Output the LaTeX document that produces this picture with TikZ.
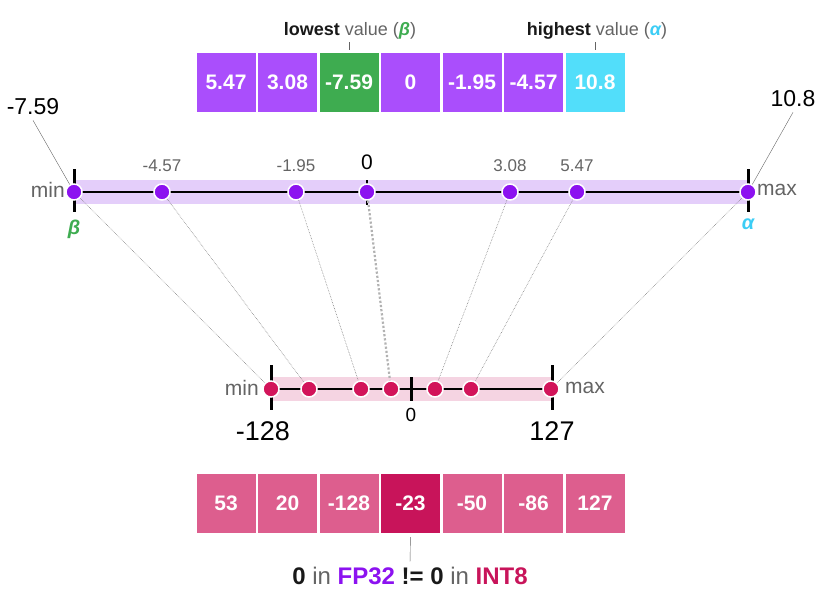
\documentclass[tikz,border=0pt]{standalone}
\usepackage{fontspec}
\setmainfont{Liberation Sans}
\definecolor{cellpurple}{RGB}{170,78,252}
\definecolor{cellgreen}{RGB}{62,172,80}
\definecolor{cellcyan}{RGB}{82,222,250}
\definecolor{alphacyan}{RGB}{60,205,245}
\definecolor{dotpurple}{RGB}{140,18,240}
\definecolor{bandpurple}{RGB}{228,206,250}
\definecolor{dotred}{RGB}{210,20,90}
\definecolor{bandpink}{RGB}{245,212,226}
\definecolor{cellpink}{RGB}{221,94,142}
\definecolor{cellred}{RGB}{200,20,90}
\definecolor{txtgray}{RGB}{100,100,100}
\definecolor{txtdark}{RGB}{25,25,25}

\begin{document}
\begin{tikzpicture}[x=1pt,y=-1pt,
    cell/.style={minimum size=59pt,inner sep=0pt,text=white,font=\bfseries\fontsize{21}{21}\selectfont},
    fpdot/.style={circle,fill=dotpurple,draw=white,line width=1.5pt,minimum size=16pt,inner sep=0pt},
    intdot/.style={fpdot,fill=dotred},
    lbl/.style={inner sep=0pt,text=txtgray,font=\fontsize{17}{17}\selectfont},
    bound/.style={inner sep=0pt,text=txtgray,font=\fontsize{21}{21}\selectfont},
    map/.style={gray,densely dotted,line width=0.6pt}]
    \useasboundingbox(0,0)rectangle(816,591);

    % FP32 values
    \node[cell,fill=cellpurple](t1)at(226,82.5){5.47};
    \node[cell,fill=cellpurple](t2)at(287.5,82.5){3.08};
    \node[cell,fill=cellgreen](t3)at(349,82.5){-7.59};
    \node[cell,fill=cellpurple](t4)at(410.5,82.5){0};
    \node[cell,fill=cellpurple](t5)at(472,82.5){-1.95};
    \node[cell,fill=cellpurple](t6)at(533.5,82.5){-4.57};
    \node[cell,fill=cellcyan](t7)at(595,82.5){10.8};
    \node[text=txtdark,font=\fontsize{18}{18}\selectfont](lowest)at(350,31){\textbf{lowest} \textcolor{txtgray}{value (}\textcolor{cellgreen}{\bfseries\itshape β}\textcolor{txtgray}{)}};
    \node[text=txtdark,font=\fontsize{18}{18}\selectfont](highest)at(597,31){\textbf{highest} \textcolor{txtgray}{value (}\textcolor{alphacyan}{\bfseries\itshape α}\textcolor{txtgray}{)}};
    \draw[txtgray]([yshift=3pt]t3.north)--([yshift=11pt]t3.north);
    \draw[txtgray]([yshift=3pt]t7.north)--([yshift=11pt]t7.north);

    % FP32 range
    \fill[bandpurple](74,180)rectangle(748,204);
    \draw[line width=2.5pt](74,192)--(748,192);
    \draw[line width=3pt](74,169)--(74,212);
    \draw[line width=3pt](748,169)--(748,212);
    \draw[line width=2pt](367,180)--(367,205);
    \node[fpdot](p1)at(74,192){};
    \node[fpdot](p2)at(162,192){};
    \node[fpdot](p3)at(296,192){};
    \node[fpdot](p4)at(367,192){};
    \node[fpdot](p5)at(510,192){};
    \node[fpdot](p6)at(577,192){};
    \node[fpdot](p7)at(748,192){};
    \node[lbl](l2)at(162,166){-4.57};
    \node[lbl](l3)at(296,166){-1.95};
    \node[lbl,text=black,font=\fontsize{21}{21}\selectfont](l4)at(367,162){0};
    \node[lbl](l5)at(510,166){3.08};
    \node[lbl](l6)at(577,166){5.47};
    \node[bound,anchor=east](mintop)at(65,190){min};
    \node[bound,anchor=west](maxtop)at(757,190){max};
    \node[inner sep=0pt,text=cellgreen,font=\bfseries\itshape\fontsize{20}{20}\selectfont](beta)at(74,229){β};
    \node[inner sep=0pt,text=alphacyan,font=\bfseries\itshape\fontsize{20}{20}\selectfont](alpha)at(748,224){α};
    \node[inner sep=0pt,font=\fontsize{23}{23}\selectfont](lo)at(33,107){-7.59};
    \node[inner sep=0pt,font=\fontsize{23}{23}\selectfont](hi)at(793,99){10.8};
    \draw[gray!80!black](lo.south)++(0,5)--(p1);
    \draw[gray!80!black](hi.south)++(0,5)--(p7);

    % INT8 range
    \fill[bandpink](270,377)rectangle(552,401);
    \draw[line width=2.5pt](271,389)--(552,389);
    \draw[line width=3pt](271,365)--(271,410);
    \draw[line width=3pt](552,365)--(552,410);
    \draw[line width=3pt](411,377)--(411,401);
    \node[intdot](q1)at(271,389){};
    \node[intdot](q2)at(309,389){};
    \node[intdot](q3)at(361,389){};
    \node[intdot](q4)at(391,389){};
    \node[intdot](q5)at(435,389){};
    \node[intdot](q6)at(471,389){};
    \node[intdot](q7)at(551,389){};
    \node[bound,anchor=east](minbot)at(259,388){min};
    \node[bound,anchor=west](maxbot)at(565,388){max};
    \node[inner sep=0pt,font=\fontsize{19}{19}\selectfont](zero)at(411,415){0};
    \node[inner sep=0pt,font=\fontsize{27}{27}\selectfont](lowint)at(263,431){-128};
    \node[inner sep=0pt,font=\fontsize{27}{27}\selectfont](highint)at(552,431){127};

    % mapping
    \draw[map](p1)--(q1);
    \draw[map](p2)--(q2);
    \draw[map](p3)--(q3);
    \draw[gray!60,dotted,line width=2.2pt](p4)--(q4);
    \draw[map](p5)--(q5);
    \draw[map](p6)--(q6);
    \draw[map](p7)--(q7);

    % INT8 values
    \node[cell,fill=cellpink](b1)at(226,503.5){53};
    \node[cell,fill=cellpink](b2)at(287.5,503.5){20};
    \node[cell,fill=cellpink](b3)at(349,503.5){-128};
    \node[cell,fill=cellred](b4)at(410.5,503.5){-23};
    \node[cell,fill=cellpink](b5)at(472,503.5){-50};
    \node[cell,fill=cellpink](b6)at(533.5,503.5){-86};
    \node[cell,fill=cellpink](b7)at(595,503.5){127};
    \node[text=txtdark,font=\fontsize{24}{24}\selectfont](note)at(410,576){\textbf{0} \textcolor{txtgray}{in} \textbf{\textcolor{dotpurple}{FP32}} \textbf{!= 0} \textcolor{txtgray}{in} \textbf{\textcolor{cellred}{INT8}}};
    \draw[txtgray,shorten <=4pt,shorten >=2pt](b4.south)--(note.north);
\end{tikzpicture}
\end{document}
